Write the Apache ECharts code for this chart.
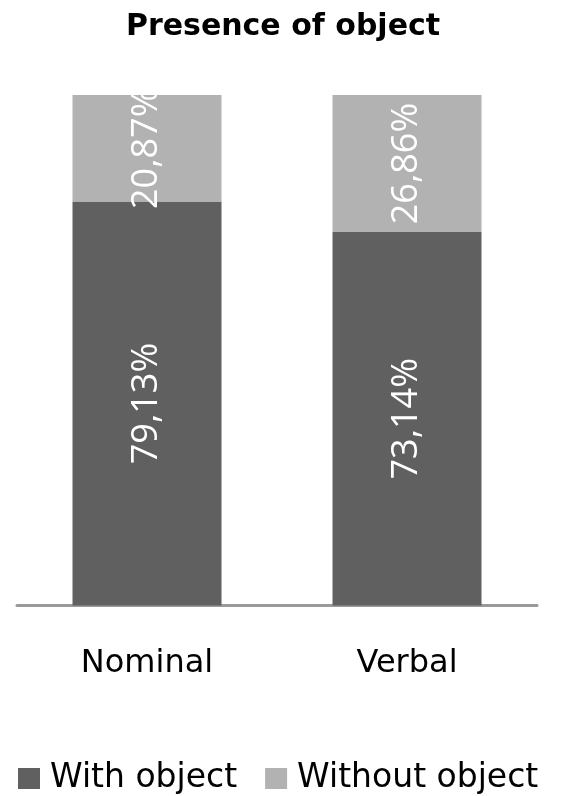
<!DOCTYPE html>
<html>
<head>
<meta charset="utf-8">
<script src="https://cdn.jsdelivr.net/npm/echarts@6/dist/echarts.min.js"></script>
<style>
  html, body { margin: 0; padding: 0; background: #fff; }
  #chart { width: 561px; height: 796px; }
</style>
</head>
<body>
<div id="chart"></div>
<script>
// Share of constructions with / without an object, per category
const categories = ['Nominal', 'Verbal'];
const withObject = [79.13, 73.14];
const withoutObject = [20.87, 26.86];
const seriesNames = ['With object', 'Without object'];

const TEXT_FONT = 'DejaVu Sans';
const VALUE_FONT = 'Open Sans';
const fmt = v => v.toFixed(2).replace('.', ',') + '%';

const chart = echarts.init(document.getElementById('chart'), null, { renderer: 'canvas' });

const barLabel = {
  show: true,
  position: 'inside',
  rotate: 90,
  color: '#ffffff',
  fontFamily: VALUE_FONT,
  fontSize: 36,
  formatter: p => fmt(p.value)
};

chart.setOption({
  animation: false,
  backgroundColor: '#ffffff',
  title: {
    text: 'Presence of object',
    left: 278,
    textAlign: 'center',
    top: 7,
    textStyle: { fontFamily: TEXT_FONT, fontWeight: 'bold', fontSize: 30, color: '#000' }
  },
  legend: {
    data: seriesNames,
    left: 13,
    top: 757,
    itemWidth: 22,
    itemHeight: 21,
    itemGap: 28,
    icon: 'rect',
    textStyle: { fontFamily: TEXT_FONT, fontSize: 33, color: '#000', padding: [0, 0, 0, 5] }
  },
  grid: { left: 17, right: 24, top: 95, bottom: 190.5, containLabel: false },
  xAxis: {
    type: 'category',
    data: categories,
    axisLine: { show: true, lineStyle: { color: '#9a9a9a', width: 3 } },
    axisTick: { show: false },
    axisLabel: { fontFamily: TEXT_FONT, fontSize: 32, color: '#000', margin: 42 }
  },
  yAxis: {
    type: 'value',
    min: 0,
    max: 100,
    show: false,
    splitLine: { show: false }
  },
  series: [
    {
      name: seriesNames[0],
      type: 'bar',
      stack: 'total',
      barWidth: 149,
      data: withObject,
      itemStyle: { color: '#606060' },
      label: barLabel
    },
    {
      name: seriesNames[1],
      type: 'bar',
      stack: 'total',
      barWidth: 149,
      data: withoutObject,
      itemStyle: { color: '#b2b2b2' },
      label: barLabel
    }
  ]
});
</script>
</body>
</html>
